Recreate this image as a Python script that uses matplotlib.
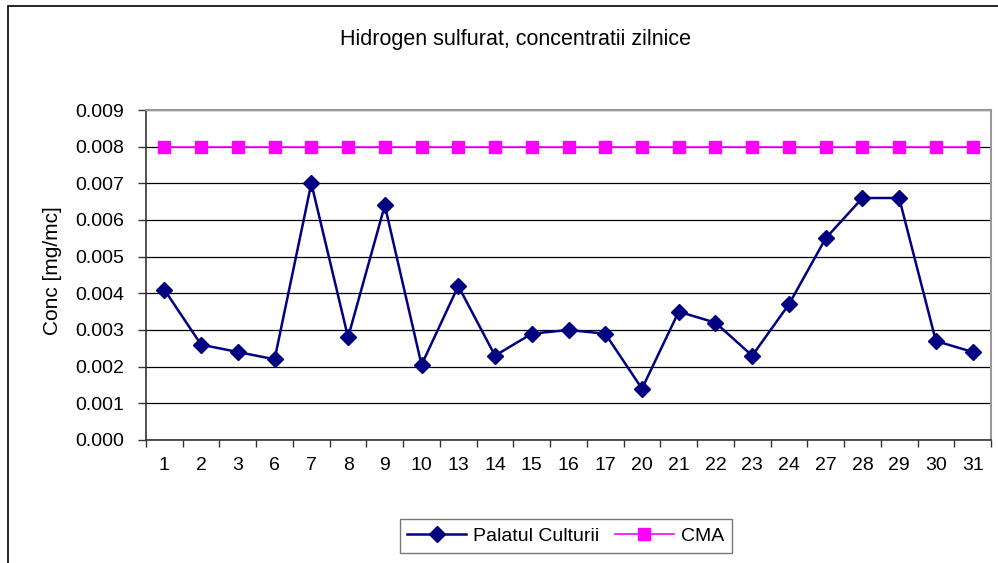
# Hidrogen sulfurat - daily concentrations, Excel-style line chart
import matplotlib
matplotlib.use("Agg")
import matplotlib.pyplot as plt
from matplotlib.patches import Rectangle
from matplotlib.ticker import FixedLocator, FormatStrFormatter

# ---- data ------------------------------------------------------------
days = ["1", "2", "3", "6", "7", "8", "9", "10", "13", "14", "15", "16",
        "17", "20", "21", "22", "23", "24", "27", "28", "29", "30", "31"]
palatul = [0.0041, 0.0026, 0.0024, 0.0022, 0.0070, 0.0028, 0.0064, 0.00205,
           0.0042, 0.0023, 0.0029, 0.0030, 0.0029, 0.0014, 0.0035, 0.0032,
           0.0023, 0.0037, 0.0055, 0.0066, 0.0066, 0.0027, 0.0024]
cma = [0.008] * len(days)
yticks = [0.000, 0.001, 0.002, 0.003, 0.004, 0.005, 0.006, 0.007, 0.008, 0.009]

plt.rcParams["font.family"] = ["Liberation Sans", "DejaVu Sans"]

W, H = 998, 563
fig = plt.figure(figsize=(W / 100, H / 100), dpi=100)

# outer chart border (left + top only, the rest runs off the image)
fig.patches.append(Rectangle((8 / W, -0.1), 1.1, 1.1 - 6 / H,
                             transform=fig.transFigure, fill=False,
                             edgecolor="black", linewidth=1.2))

ax = fig.add_axes([146 / W, (H - 440) / H, (991 - 146) / W, 330 / H])
x = list(range(len(days)))

ax.set_ylim(0, 0.009)
ax.set_xlim(-0.5, len(days) - 0.5)
ax.set_yticks(yticks)
ax.yaxis.set_major_formatter(FormatStrFormatter("%.3f"))
ax.grid(axis="y", color="black", linewidth=0.9)
ax.set_axisbelow(True)

ax.plot(x, cma, color="#FF00FF", linewidth=1.2, marker="s", markersize=8,
        label="CMA", zorder=3)
ax.plot(x, palatul, color="#000080", linewidth=1.8, marker="D",
        markersize=8, label="Palatul Culturii", zorder=4)

# category ticks between labels, labels centered
ax.set_xticks(x)
ax.set_xticklabels(days)
ax.xaxis.set_minor_locator(FixedLocator([i - 0.5 for i in range(len(days) + 1)]))
ax.tick_params(axis="x", which="major", length=0, pad=12, labelsize=14)
ax.tick_params(axis="x", which="minor", length=5, width=1, color="#333333")
ax.tick_params(axis="y", length=6, width=1, color="#333333", labelsize=14, pad=10)

for side in ("top", "right"):
    ax.spines[side].set_color("#999999")
    ax.spines[side].set_linewidth(1.5)
for side in ("left", "bottom"):
    ax.spines[side].set_color("#333333")
    ax.spines[side].set_linewidth(1.2)

ax.set_ylabel("Conc [mg/mc]", fontsize=15)
ax.yaxis.set_label_coords((62 - 146) / 845, (440 - 271) / 330)
fig.text(515 / W, 1 - 40 / H, "Hidrogen sulfurat, concentratii zilnice",
         ha="center", va="center", fontsize=15.5)

handles, labels = ax.get_legend_handles_labels()
leg = fig.legend(handles[::-1], labels[::-1], loc="center",
                 bbox_to_anchor=(566 / W, 1 - 536 / H), ncol=2, fontsize=14,
                 frameon=True, fancybox=False, borderpad=0.4,
                 handlelength=3, columnspacing=0.8, handletextpad=0.4)
leg.get_frame().set_edgecolor("#555555")
leg.get_frame().set_linewidth(1.0)

fig.savefig("out.png", dpi=100)
